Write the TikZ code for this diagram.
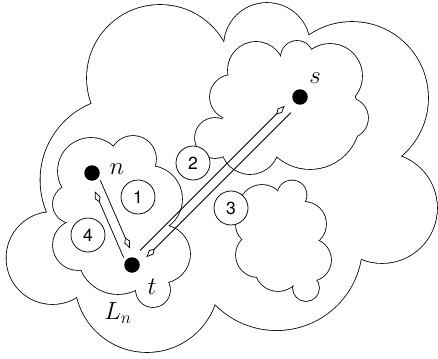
\documentclass[tikz,border=0pt]{standalone}
\usepackage{fontspec}
\setsansfont{TeX Gyre Heros}
\usetikzlibrary{calc,arrows.meta}
\newcommand\drawcloud[2]{%
  \foreach \px/\py/\pr in {#1} {\draw[cloudedge] (\px,\py) circle[radius=\pr pt];}
  \foreach \px/\py/\pr in {#1} {\fill[white] (\px,\py) circle[radius=\pr pt];}
  \fill[white] #2 -- cycle;}
\begin{document}
\begin{tikzpicture}[x=1pt,y=-1pt,
  cloudedge/.style={line width=1.6pt},
  dot/.style={circle,fill=black,inner sep=0pt,minimum size=15.5pt},
  num/.style={circle,draw,fill=white,line width=0.75pt,inner sep=0pt,minimum size=34pt,font=\sffamily\fontsize{17.5}{20}\selectfont},
  lbl/.style={inner sep=0pt,font=\fontsize{25}{29}\selectfont},
  arr/.style={line width=0.75pt,-{Kite[open,length=12pt,width=6pt,inset=5pt]}}]
\useasboundingbox (0,0) rectangle (438,358);
% outer cloud L_n
\drawcloud{160/78/73, 267/46/43, 352/98/76, 382/208/55, 276.5/244.5/85.6, 147/280/72, 52.5/258/46, 123/180/82.5}
  {(160,78) -- (267,46) -- (352,98) -- (382,208) -- (276.5,244.5) -- (147,280) -- (52.5,258) -- (123,180)}
% s cloud
\drawcloud{256/70/28, 297/57/16, 330/76/32, 348/118/20, 310/119/50, 250/145/29, 215/138/20, 232/97/22}
  {(256,70) -- (297,57) -- (330,76) -- (348,118) -- (310,119) -- (250,145) -- (215,138) -- (232,97)}
% n/t cloud
\drawcloud{91/171/33, 133/159/23, 149/199/33, 161/254/29, 153/290/17, 118/254/40, 78/245/25, 72/204/19}
  {(91,171) -- (133,159) -- (149,199) -- (161,254) -- (153,290) -- (118,254) -- (78,245) -- (72,204)}
% third cloud
\drawcloud{262/208/23, 292/195/14.5, 304/224/22, 310/260/21, 306/288/13, 278/268/23, 258/255/22, 255/225/19}
  {(262,208) -- (292,195) -- (304,224) -- (310,260) -- (306,288) -- (278,268) -- (258,255) -- (255,225)}
% points
\node[dot] (n) at (92,173) {};
\node[dot] (t) at (132,265) {};
\node[dot] (s) at (300,97) {};
% arrows
\draw[arr] ($(n)!10pt!(t)!4.7pt!90:(t)$) -- ($(t)!16pt!(n)!4.7pt!-90:(n)$);
\draw[arr] ($(t)!10pt!(n)!4.7pt!90:(n)$) -- ($(n)!18pt!(t)!4.7pt!-90:(t)$);
\draw[arr] ($(t)!16pt!(s)!4.6pt!90:(s)$) -- ($(s)!17pt!(t)!4.6pt!-90:(t)$);
\draw[arr] ($(s)!17.5pt!(t)!4.6pt!90:(t)$) -- ($(t)!15.6pt!(s)!4.6pt!-90:(s)$);
% labels
\node[lbl] (ln) at (117,169) {$n$};
\node[lbl] (ls) at (315,78) {$s$};
\node[lbl] (lt) at (152,287) {$t$};
\node[lbl] (lL) at (118,313) {$L_n$};
% numbered circles
\node[num] (c1) at (138,197) {1};
\node[num] (c2) at (193,163) {2};
\node[num] (c3) at (231,208) {3};
\node[num] (c4) at (88,235) {4};
\end{tikzpicture}
\end{document}
